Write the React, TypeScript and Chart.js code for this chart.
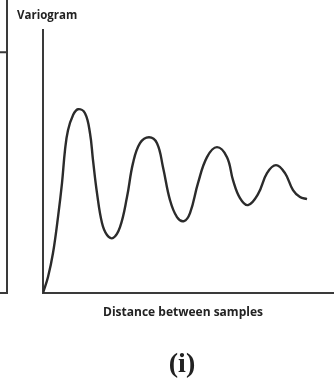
import React, { useEffect, useRef } from "react";
import { Chart, registerables } from "chart.js";

Chart.register(...registerables);

// Curve: distance between samples vs. semivariance (hole-effect variogram)
const distance = [0, 5, 10, 15, 19, 22, 25, 30, 35, 42, 47, 50, 54, 59, 64, 70, 77, 84, 90, 97, 106, 114, 120, 127, 134, 141, 147, 155, 164, 174, 184, 190, 197, 205, 215, 224, 233, 242, 250, 257, 264];
const semivariance = [0, 16, 40, 76, 110, 143, 163, 178, 184, 180, 160, 133, 100, 70, 58, 55, 66, 96, 130, 150, 156, 150, 126, 93, 76, 72, 80, 110, 136, 146, 136, 113, 95, 88, 99, 120, 128, 120, 103, 96, 94];

const xMax = 291;
const yMax = 263;

const chartTitle = "Variogram";
const xAxisLabel = "Distance between samples";
const panelLabel = "(i)";
// edge of the neighbouring panel (semivariance levels where its lines sit)
const neighbourLevels = [241, 0];

const ink = "#2b2b2b";
const axisInk = "#3a3a3a";

export default function App() {
  const ref = useRef<HTMLCanvasElement>(null);

  useEffect(() => {
    if (!ref.current) return;
    const textPlugin = {
      id: "panelText",
      afterDraw(chart: any) {
        const { ctx, chartArea } = chart;
        const yScale = chart.scales.y;
        ctx.save();
        // neighbouring panel's right edge
        ctx.strokeStyle = axisInk;
        ctx.lineWidth = 2;
        const xEdge = chartArea.left - 36;
        ctx.beginPath();
        ctx.moveTo(xEdge, 0);
        ctx.lineTo(xEdge, yScale.getPixelForValue(0) + 1);
        neighbourLevels.forEach((v) => {
          const py = yScale.getPixelForValue(v);
          ctx.moveTo(0, py);
          ctx.lineTo(xEdge, py);
        });
        ctx.stroke();

        ctx.fillStyle = "#222";
        ctx.textAlign = "center";
        ctx.textBaseline = "middle";
        ctx.font = "bold 12px 'Open Sans'";
        ctx.fillText(xAxisLabel, chartArea.left + 140, chartArea.bottom + 20);
        ctx.font = "bold 28px 'Liberation Serif'";
        ctx.fillText(panelLabel, chartArea.left + 139, chartArea.bottom + 72);
        ctx.restore();
      },
    };

    const chart = new Chart(ref.current, {
      type: "line",
      data: {
        datasets: [
          {
            data: distance.map((d, i) => ({ x: d, y: semivariance[i] })),
            borderColor: ink,
            borderWidth: 2.4,
            pointRadius: 0,
            tension: 0.4,
            fill: false,
          },
        ],
      },
      options: {
        animation: false,
        responsive: false,
        layout: { padding: { left: 17, right: 0, top: 0, bottom: 0 } },
        plugins: {
          legend: { display: false },
          tooltip: { enabled: false },
          title: {
            display: true,
            text: chartTitle,
            align: "start",
            color: "#222",
            font: { family: "'Open Sans'", size: 11.5, weight: "bold", lineHeight: 1.2 },
            padding: { top: 9, bottom: 7.5 },
          },
        },
        scales: {
          x: {
            type: "linear",
            min: 0,
            max: xMax,
            grid: { display: false },
            border: { display: true, color: axisInk, width: 2 },
            ticks: { display: false },
            afterFit: (s: any) => {
              s.height = 92;
            },
          },
          y: {
            type: "linear",
            min: 0,
            max: yMax,
            grid: { display: false },
            border: { display: true, color: axisInk, width: 2 },
            ticks: { display: false },
            afterFit: (s: any) => {
              s.width = 26;
            },
          },
        },
      },
      plugins: [textPlugin],
    });
    return () => chart.destroy();
  }, []);

  return (
    <div style={{ position: "absolute", left: 0, top: 0, width: 334, height: 385, background: "#fff" }}>
      <canvas ref={ref} width={334} height={385} style={{ display: "block" }} />
    </div>
  );
}
